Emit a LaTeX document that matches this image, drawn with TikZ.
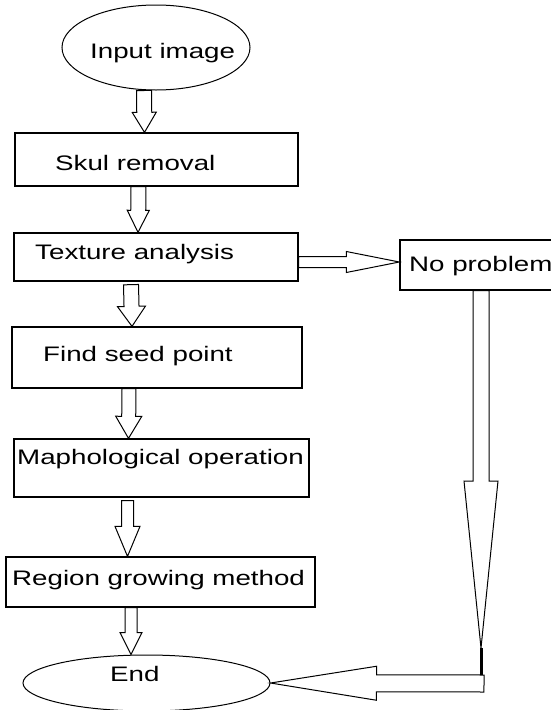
\documentclass[tikz,border=0pt]{standalone}
\usepackage{fontspec}
\setmainfont{Liberation Sans}
\usetikzlibrary{shapes.geometric,calc}
\newcommand{\wtext}[1]{\scalebox{1.32}[1]{#1}}

\begin{document}
\begin{tikzpicture}[x=1pt,y=-1pt,
  box/.style={rectangle,draw,line width=1.3pt,inner sep=0pt},
  oval/.style={ellipse,draw,line width=1pt,inner sep=0pt},
  txt/.style={anchor=base west,inner sep=0pt,font=\fontsize{21}{25}\selectfont},
  hollow/.style n args={3}{line width=1pt,to path={
    ($(\tikztostart)!#1!90:(\tikztotarget)$)
    -- ($(\tikztotarget)!#3!(\tikztostart)!#1!-90:(\tikztostart)$)
    -- ($(\tikztotarget)!#3!(\tikztostart)!#2!-90:(\tikztostart)$)
    -- (\tikztotarget)
    -- ($(\tikztotarget)!#3!(\tikztostart)!#2!90:(\tikztostart)$)
    -- ($(\tikztotarget)!#3!(\tikztostart)!#1!90:(\tikztostart)$)
    -- ($(\tikztostart)!#1!-90:(\tikztotarget)$) -- cycle}}]
\useasboundingbox (0,0) rectangle (551,710);

\path (156,47.5) node[oval,minimum width=188pt,minimum height=85pt] (in) {};
\path (90,58) node[txt] (tin) {\wtext{Input image}};

\path (156.5,159.5) node[box,minimum width=283pt,minimum height=53pt] (skul) {};
\path (55,170) node[txt] (tskul) {\wtext{Skul removal}};
\draw[hollow={7.5pt}{12pt}{20pt}] ([xshift=-12pt]in.south) to ([xshift=-12pt]skul.north);

\path (156,257) node[box,minimum width=284pt,minimum height=48pt] (tex) {};
\path (35,259) node[txt] (ttex) {\wtext{Texture analysis}};
\draw[hollow={7.5pt}{11pt}{22pt}] ([xshift=-18pt]skul.south) to ([xshift=-18pt]tex.north);

\path (480,265) node[box,minimum width=160pt,minimum height=50pt] (np) {};
\path (409,271) node[txt] (tnp) {\wtext{No problem}};
\draw[hollow={5.5pt}{10.5pt}{53pt}] ([yshift=-5pt]tex.east) to ([yshift=3pt]np.west);

\path (157,357.5) node[box,minimum width=290pt,minimum height=61pt] (seed) {};
\path (43,361) node[txt] (tseed) {\wtext{Find seed point}};
\draw[hollow={7.5pt}{14pt}{20pt}] ([xshift=-25pt,yshift=-3pt]tex.south) to ([xshift=-25pt]seed.north);

\path (161.5,468) node[box,minimum width=295pt,minimum height=58pt] (maph) {};
\path (17,464) node[txt] (tmaph) {\wtext{Maphological operation}};
\draw[hollow={7pt}{13pt}{22pt}] ([xshift=-28pt]seed.south) to ([xshift=-33pt]maph.north);

\path (160.5,582) node[box,minimum width=309pt,minimum height=50pt] (reg) {};
\path (12,585) node[txt] (treg) {\wtext{Region growing method}};
\draw[hollow={6pt}{12.5pt}{30pt}] ([xshift=-34pt,yshift=-3pt]maph.south) to ([xshift=-33pt]reg.north);

\path (146.5,683) node[oval,minimum width=247pt,minimum height=56pt] (end) {};
\path (110,681) node[txt] (tend) {\wtext{End}};
\draw[hollow={6pt}{11pt}{22pt}] ([xshift=-29.5pt]reg.south) to ([xshift=-15.5pt]end.north);

\coordinate (tip) at (481,648);
\coordinate (turn) at (484,683.5);
\draw[hollow={8pt}{17pt}{167pt}] ([xshift=1pt]np.south) to (tip);
\draw[line width=3pt] (tip) -- ([xshift=-3pt,yshift=8.5pt]turn);
\draw[hollow={8.5pt}{17pt}{106pt}] (turn) to (end.east);
\end{tikzpicture}
\end{document}
